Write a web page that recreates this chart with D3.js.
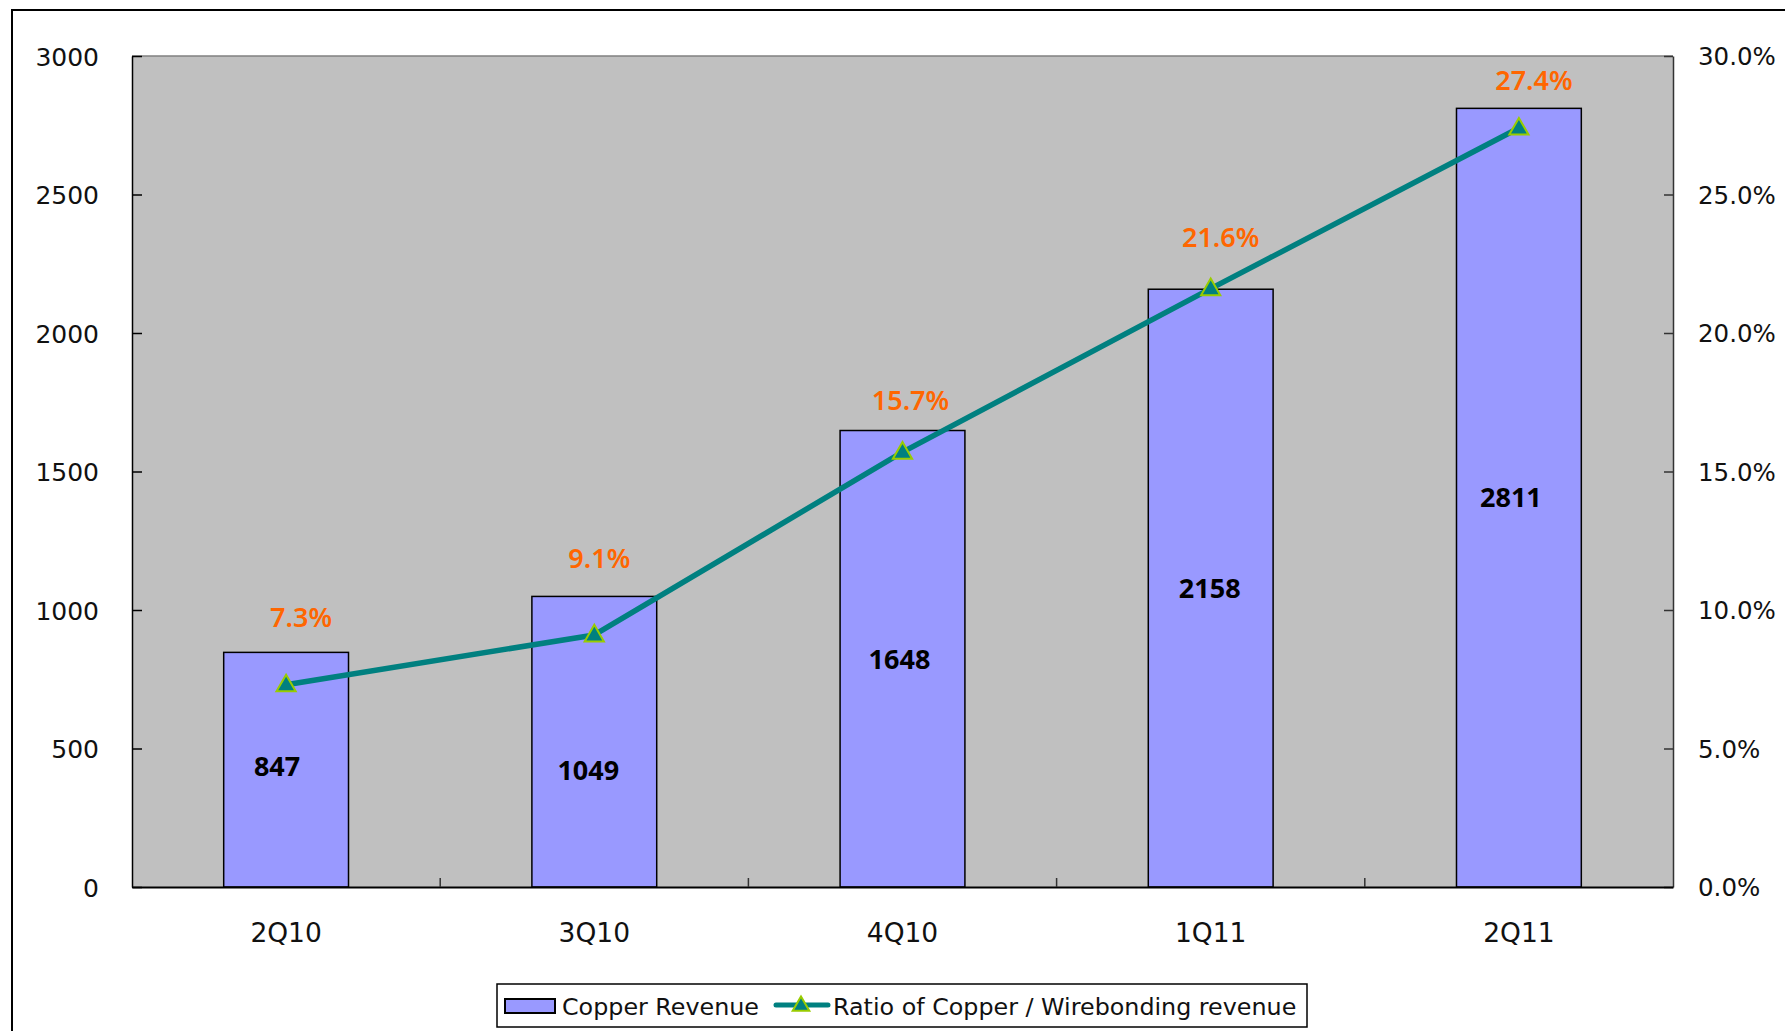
<!DOCTYPE html>
<html>
<head>
<meta charset="utf-8">
<script src="https://cdn.jsdelivr.net/npm/d3@7"></script>
<style>
  html, body { margin: 0; padding: 0; background: #fff; }
  svg { display: block; }
</style>
</head>
<body>
<svg id="chart" width="1785" height="1031"></svg>
<script>
// ---- data ----
const categories = ["2Q10", "3Q10", "4Q10", "1Q11", "2Q11"];
const copperRevenue = [847, 1049, 1648, 2158, 2811];
const copperRatio = [7.3, 9.1, 15.7, 21.6, 27.4]; // percent
const leftTicks = [0, 500, 1000, 1500, 2000, 2500, 3000];
const rightTicks = [0, 5, 10, 15, 20, 25, 30];
const seriesNames = ["Copper Revenue", "Ratio of Copper / Wirebonding revenue"];

// ---- layout ----
const W = 1785, H = 1031;
const plot = { left: 132, top: 56, right: 1673, bottom: 887 };
const axisFont = "'DejaVu Sans', sans-serif";
const labelFont = "'Noto Sans', sans-serif";
const barFill = "#9999FF", lineColor = "#008080", markerStroke = "#99CC00", pctColor = "#FF6600";

const svg = d3.select("#chart");

// outer frame (extends beyond the canvas at right / bottom)
svg.append("rect")
  .attr("x", 12).attr("y", 10)
  .attr("width", W + 50).attr("height", H + 50)
  .attr("fill", "#fff").attr("stroke", "#000").attr("stroke-width", 2);

const x = d3.scaleBand()
  .domain(categories)
  .range([plot.left, plot.right])
  .paddingInner(0.595)
  .paddingOuter(0.2975);
const xStep = d3.scaleBand().domain(categories).range([plot.left, plot.right]).padding(0);
const yL = d3.scaleLinear().domain([0, 3000]).range([plot.bottom, plot.top]);
const yR = d3.scaleLinear().domain([0, 30]).range([plot.bottom, plot.top]);

// plot background
svg.append("rect")
  .attr("x", plot.left).attr("y", plot.top)
  .attr("width", plot.right - plot.left).attr("height", plot.bottom - plot.top)
  .attr("fill", "#C0C0C0");
// top border (gray)
svg.append("line")
  .attr("x1", plot.left).attr("x2", plot.right)
  .attr("y1", plot.top).attr("y2", plot.top)
  .attr("stroke", "#808080").attr("stroke-width", 1.5);

// bars
svg.append("g").selectAll("rect")
  .data(copperRevenue)
  .join("rect")
  .attr("x", (d, i) => x(categories[i]))
  .attr("y", d => yL(d))
  .attr("width", x.bandwidth())
  .attr("height", d => yL(0) - yL(d))
  .attr("fill", barFill)
  .attr("stroke", "#000").attr("stroke-width", 1.5);

// bar value labels
const valueNudgeX = [-9, -6, -3, -1, -8];
const valueNudgeY = [-3, 29, 1, 0, 0];
svg.append("g").selectAll("text")
  .data(copperRevenue)
  .join("text")
  .attr("x", (d, i) => x(categories[i]) + x.bandwidth() / 2 + valueNudgeX[i])
  .attr("y", (d, i) => (yL(d) + yL(0)) / 2 + valueNudgeY[i])
  .attr("dy", "0.36em")
  .attr("text-anchor", "middle")
  .attr("font-family", labelFont).attr("font-weight", 700).attr("font-size", 27)
  .attr("fill", "#000")
  .text(d => d);

// left axis
const gL = svg.append("g")
  .attr("transform", `translate(${plot.left},0)`)
  .call(d3.axisLeft(yL).tickValues(leftTicks).tickSizeInner(-10).tickSizeOuter(0).tickPadding(33).tickFormat(d3.format("d")));
gL.select(".domain").attr("stroke", "#000").attr("stroke-width", 1.5);
gL.selectAll(".tick line").attr("stroke", "#000").attr("stroke-width", 1.5);
gL.selectAll(".tick text").attr("font-family", axisFont).attr("font-size", 25).attr("fill", "#111").attr("dy", "0.36em");

// right axis
const gR = svg.append("g")
  .attr("transform", `translate(${plot.right},0)`)
  .call(d3.axisRight(yR).tickValues(rightTicks).tickSizeInner(-9).tickSizeOuter(0).tickPadding(25).tickFormat(d => d3.format(".1f")(d) + "%"));
gR.select(".domain").attr("stroke", "#333").attr("stroke-width", 1.5);
gR.selectAll(".tick line").attr("stroke", "#333").attr("stroke-width", 1.5);
gR.selectAll(".tick text").attr("font-family", axisFont).attr("font-size", 24.5).attr("fill", "#111").attr("dy", "0.36em");

// bottom axis
const gB = svg.append("g")
  .attr("transform", `translate(0,${plot.bottom})`)
  .call(d3.axisBottom(x).tickSize(0).tickSizeOuter(0).tickPadding(45));
gB.select(".domain").attr("stroke", "#000").attr("stroke-width", 2);
gB.selectAll(".tick text").attr("font-family", axisFont).attr("font-size", 26.5).attr("fill", "#111").attr("dy", "0.36em");
// category boundary ticks (inward)
svg.append("g").selectAll("line")
  .data(categories.slice(1))
  .join("line")
  .attr("x1", d => xStep(d)).attr("x2", d => xStep(d))
  .attr("y1", plot.bottom).attr("y2", plot.bottom - 9)
  .attr("stroke", "#333").attr("stroke-width", 1.5);

// ratio line
const cx = (i) => x(categories[i]) + x.bandwidth() / 2;
const line = d3.line().x((d, i) => cx(i)).y(d => yR(d));
svg.append("path")
  .datum(copperRatio)
  .attr("d", line)
  .attr("fill", "none").attr("stroke", lineColor).attr("stroke-width", 5.5)
  .attr("stroke-linejoin", "round");

const tri = d3.symbol().type(d3.symbolTriangle).size(160);
svg.append("g").selectAll("path")
  .data(copperRatio)
  .join("path")
  .attr("d", tri)
  .attr("transform", (d, i) => `translate(${cx(i)},${yR(d) + 1})`)
  .attr("fill", lineColor).attr("stroke", markerStroke).attr("stroke-width", 2);

// percent labels
const pctNudgeX = [15, 5, 8, 10, 15];
const pctNudgeY = [-68, -77, -52, -51, -48];
svg.append("g").selectAll("text")
  .data(copperRatio)
  .join("text")
  .attr("x", (d, i) => cx(i) + pctNudgeX[i])
  .attr("y", (d, i) => yR(d) + pctNudgeY[i])
  .attr("dy", "0.36em")
  .attr("text-anchor", "middle")
  .attr("font-family", labelFont).attr("font-weight", 600).attr("font-size", 27)
  .attr("fill", pctColor)
  .text(d => d3.format(".1f")(d) + "%");

// legend
const lg = svg.append("g");
lg.append("rect")
  .attr("x", 497).attr("y", 984).attr("width", 810).attr("height", 43)
  .attr("fill", "#fff").attr("stroke", "#000").attr("stroke-width", 1.5);
lg.append("rect")
  .attr("x", 505).attr("y", 999).attr("width", 50).attr("height", 14)
  .attr("fill", barFill).attr("stroke", "#000").attr("stroke-width", 2);
lg.append("text")
  .attr("x", 562).attr("y", 1006).attr("dy", "0.36em")
  .attr("font-family", axisFont).attr("font-size", 23.8).attr("fill", "#111")
  .text(seriesNames[0]);
lg.append("line")
  .attr("x1", 776).attr("x2", 828).attr("y1", 1005).attr("y2", 1005)
  .attr("stroke", lineColor).attr("stroke-width", 5).attr("stroke-linecap", "round");
lg.append("path")
  .attr("d", d3.symbol().type(d3.symbolTriangle).size(120))
  .attr("transform", "translate(801,1006)")
  .attr("fill", lineColor).attr("stroke", markerStroke).attr("stroke-width", 2);
lg.append("text")
  .attr("x", 833).attr("y", 1006).attr("dy", "0.36em")
  .attr("font-family", axisFont).attr("font-size", 23.8).attr("fill", "#111")
  .text(seriesNames[1]);
</script>
</body>
</html>
